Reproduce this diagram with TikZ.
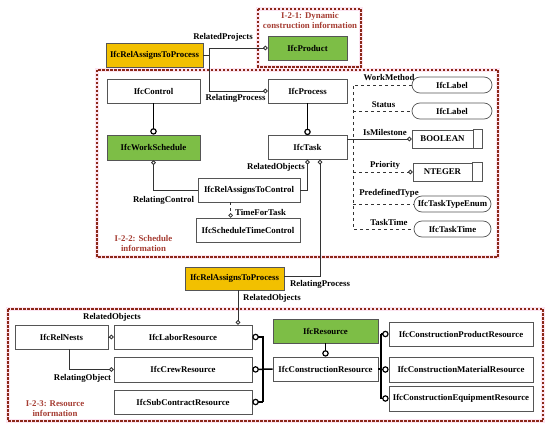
\documentclass[tikz,border=0pt]{standalone}
\usepackage{fontspec}
\setmainfont{Liberation Serif}
\usetikzlibrary{arrows.meta,calc}
\definecolor{boxgreen}{RGB}{125,190,70}
\definecolor{boxyellow}{RGB}{242,192,0}
\definecolor{regred}{RGB}{140,40,25}
\definecolor{regtext}{RGB}{165,60,50}
\definecolor{halo}{RGB}{253,230,242}
\definecolor{edge}{RGB}{85,85,85}
\begin{document}
\begin{tikzpicture}[x=1pt,y=-1pt,
  font=\bfseries\fontsize{8.8}{10.2}\selectfont,
  box/.style={draw=edge,line width=0.7pt,fill=white,inner sep=0pt,minimum height=24pt},
  gbox/.style={box,fill=boxgreen},
  ybox/.style={box,fill=boxyellow},
  pill/.style={box,rounded corners=8pt,minimum height=16pt},
  vbox/.style={box,minimum height=18pt},
  conn/.style={draw=black!80,line width=0.7pt},
  heavy/.style={draw=black,line width=1.5pt},
  endo/.style={-{Circle[open,length=4.5pt,line width=0.8pt]}},
  starto/.style={{Circle[open,length=4.5pt,line width=0.8pt]}-},
  bigendo/.style={-{Circle[open,length=6.5pt,line width=1.2pt]}},
  bigstarto/.style={{Circle[open,length=6.5pt,line width=1.2pt]}-},
  lbl/.style={inner sep=0.5pt},
  regtxt/.style={inner sep=0.5pt,text=regtext,align=center},
  haloline/.style={draw=halo,line width=4pt},
  regline/.style={draw=regred,line width=1.5pt,dash pattern=on 2.5pt off 1.5pt}
]
\useasboundingbox (0,0) rectangle (550,428);
% regions
\draw[haloline] (258,9) rectangle (361,67);
\draw[haloline] (97,70) rectangle (498,257);
\draw[haloline] (8,309) rectangle (543,421);
\draw[regline] (258,9) rectangle (361,67);
\draw[regline] (97,70) rectangle (498,257);
\draw[regline] (8,309) rectangle (543,421);
\node[regtxt] (r1) at (310,20.5) {I-2-1: Dynamic\\construction information};
\node[regtxt] (r2) at (143.5,243.5) {I-2-2: Schedule\\information};
\node[regtxt] (r3) at (55,409) {I-2-3: Resource\\information};

% top
\node[gbox,minimum width=79pt] (prod) at (307.5,48) {IfcProduct};
\node[ybox,minimum width=97pt] (rap1) at (154.5,55.5) {IfcRelAssignsToProcess};
\node[box,minimum width=93pt] (ctrl) at (153.5,91) {IfcControl};
\node[box,minimum width=79pt] (proc) at (307.5,91) {IfcProcess};
\node[gbox,minimum width=93pt,minimum height=25pt] (ws) at (153.5,147.5) {IfcWorkSchedule};
\node[box,minimum width=79pt] (task) at (307.5,147.5) {IfcTask};
\node[box,minimum width=102pt] (ratc) at (249,190) {IfcRelAssignsToControl};
\node[box,minimum width=104pt] (stc) at (248,230) {IfcScheduleTimeControl};

% attributes
\node[pill,minimum width=80pt] (lab1) at (452,85) {IfcLabel};
\node[pill,minimum width=80pt] (lab2) at (452,111) {IfcLabel};
\node[vbox,minimum width=61pt] (bool) at (442.5,139) {BOOLEAN};
\draw[draw=edge,line width=0.7pt] (bool.north east) -- ++(9,0) |- (bool.south east);
\node[vbox,minimum width=59pt] (int) at (442.5,172) {NTEGER};
\draw[draw=edge,line width=0.7pt] (int.north east) -- ++(10,0) |- (int.south east);
\node[pill,minimum width=77pt] (tte) at (452.5,204) {IfcTaskTypeEnum};
\node[pill,minimum width=77pt] (tt) at (452.5,229) {IfcTaskTime};

% bottom
\node[ybox,minimum width=99pt,minimum height=23pt] (rap2) at (234.5,278.5) {IfcRelAssignsToProcess};
\node[box,minimum width=93pt] (nests) at (61.5,337) {IfcRelNests};
\node[box,minimum width=138pt] (labor) at (183,337) {IfcLaborResource};
\node[box,minimum width=138pt,minimum height=25pt] (crew) at (183,369.5) {IfcCrewResource};
\node[box,minimum width=138pt] (sub) at (183,402) {IfcSubContractResource};
\node[gbox,minimum width=105pt] (res) at (325.5,331) {IfcResource};
\node[box,minimum width=105pt] (cres) at (325.5,369) {IfcConstructionResource};
\node[box,minimum width=144pt] (cpr) at (461,334) {IfcConstructionProductResource};
\node[box,minimum width=144pt,minimum height=25pt] (cmr) at (461,369.5) {IfcConstructionMaterialResource};
\node[box,minimum width=144pt,minimum height=25pt] (cer) at (461,398.5) {IfcConstructionEquipmentResource};

% connectors top
\draw[conn] (rap1.east) -- ++(6,0) coordinate (j1);
\draw[conn,endo] (j1) |- (prod.west);
\draw[conn,endo] (j1) |- (proc.west);
\node[lbl] (t1) at (223,37) {RelatedProjects};
\node[lbl] (t2) at (235.5,98.5) {RelatingProcess};

\draw[heavy,bigendo] (ctrl.south) -- (ws.north);
\draw[heavy,bigendo] (proc.south) -- (task.north);

\draw[conn,starto] (ws.south) |- (ratc.west);
\node[lbl] (t3) at (163.5,200.5) {RelatingControl};
\draw[conn,starto] (task.south) |- (ratc.east);
\node[lbl] (t4) at (276,167.5) {RelatedObjects};
\draw[conn,starto] ($(task.south)+(12.5,0)$) coordinate (j2) |- ($(rap2.east)+(0,-2.5)$);
\node[lbl] (t5) at (320,284.5) {RelatingProcess};

\draw[conn,dashed,endo] ($(ratc.south west)+(33,0)$) -- ($(stc.north west)+(35,0)$);
\node[lbl] (t6) at (260.5,212.5) {TimeForTask};

% attributes bus
\coordinate (bus) at (353,0);
\draw[conn,endo] ($(task.east)+(0,-8.5)$) -- (bool.west);
\draw[conn,dashed] (lab1.west) -- (lab1.west -| bus) -- (tt.west -| bus) -- (tt.west);
\draw[conn,dashed] (lab2.west -| bus) -- (lab2.west);
\draw[conn,dashed,endo] (int.west -| bus) -- (int.west);
\draw[conn,dashed] (tte.west -| bus) -- (tte.west);
\node[lbl] (a1) at (389,78) {WorkMethod};
\node[lbl] (a2) at (383.5,104.5) {Status};
\node[lbl] (a3) at (385,132.5) {IsMilestone};
\node[lbl] (a4) at (385,165.5) {Priority};
\node[lbl] (a5) at (389,193) {PredefinedType};
\node[lbl] (a6) at (389,222.5) {TaskTime};

% bottom connectors
\draw[conn,endo] ($(rap2.south)+(3.5,0)$) coordinate (j3) -- (j3 |- labor.north);
\node[lbl] (t7) at (272,298) {RelatedObjects};
\draw[conn,endo] (nests.east) -- (labor.west);
\draw[conn,endo] ($(nests.south)+(7.5,0)$) |- (crew.west);
\node[lbl] (t8) at (112,317) {RelatedObjects};
\node[lbl] (t9) at (82.5,378) {RelatingObject};

\coordinate (jr) at (263,0);
\draw[heavy,bigstarto] (labor.east) -- (labor.east -| jr) -- (sub.east -| jr);
\draw[heavy,bigstarto] (sub.east) -- (sub.east -| jr);
\draw[heavy,bigstarto] (crew.east) -- (cres.west);
\draw[heavy,bigendo] (res.south) -- (cres.north);

\coordinate (jr2) at (381,0);
\draw[heavy] (cres.east) -- (cres.east -| jr2);
\draw[heavy] (cpr.west -| jr2) -- (cer.west -| jr2);
\draw[heavy,bigendo] (cpr.west -| jr2) -- (cpr.west);
\draw[heavy,bigendo] (cmr.west -| jr2) -- (cmr.west);
\draw[heavy,bigendo] (cer.west -| jr2) -- (cer.west);
\end{tikzpicture}
\end{document}
